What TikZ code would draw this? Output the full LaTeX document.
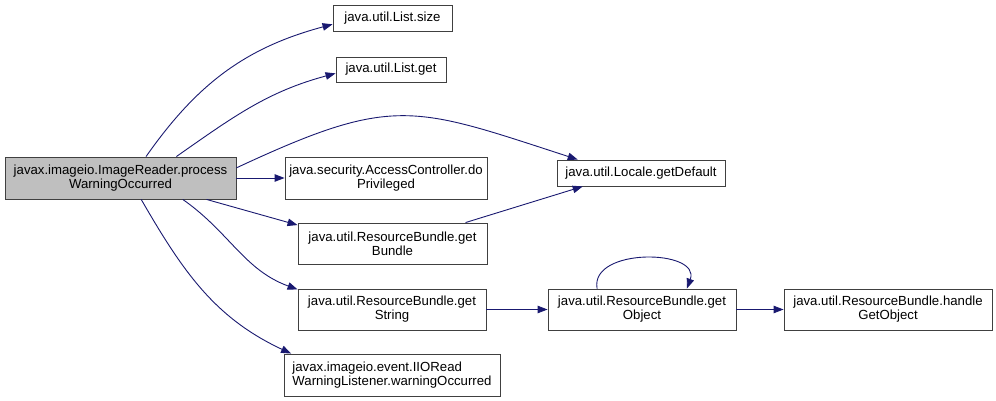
\documentclass[tikz,border=0pt]{standalone}
\usepackage{fontspec}
\setmainfont{Liberation Sans}
\usetikzlibrary{arrows.meta}
\definecolor{edgeblue}{HTML}{191970}
\tikzset{
fn/.style={draw=black!75,fill=white,line width=0.9pt,inner sep=0pt,align=center,font=\fontsize{13.2}{14}\selectfont},
cur/.style={fn,fill=black!25},
call/.style={-{Triangle[length=10pt,width=7.5pt]},edgeblue,line width=0.9pt}
}

\begin{document}
\begin{tikzpicture}[x=1pt,y=-1pt]
\useasboundingbox (0,0) rectangle (996,401);
\node[cur,minimum width=231pt,minimum height=42pt] (main) at (120.5,178) {javax.imageio.ImageReader.process\\WarningOccurred};
\node[fn,minimum width=119pt,minimum height=26pt] (size) at (392.5,18) {java.util.List.size};
\node[fn,minimum width=110pt,minimum height=25pt] (get) at (391,69.5) {java.util.List.get};
\node[fn,minimum width=202pt,minimum height=42pt] (acc) at (386,178) {java.security.AccessController.do\\Privileged};
\node[fn,minimum width=168pt,minimum height=26pt] (loc) at (641,173) {java.util.Locale.getDefault};
\node[fn,minimum width=189pt,minimum height=41pt] (bundle) at (392.5,243.5) {java.util.ResourceBundle.get\\Bundle};
\node[fn,minimum width=188pt,minimum height=41pt] (str) at (392,309.5) {java.util.ResourceBundle.get\\String};
\node[fn,minimum width=216pt,minimum height=42pt,align=left] (warn) at (392,375) {javax.imageio.event.IIORead\\WarningListener.warningOccurred};
\node[fn,minimum width=188pt,minimum height=41pt] (obj) at (642,309.5) {java.util.ResourceBundle.get\\Object};
\node[fn,minimum width=208pt,minimum height=41pt] (handle) at (888,309.5) {java.util.ResourceBundle.handle\\GetObject};

\draw[call] (main.40) to[out=55,in=195] (size.186);
\draw[call] (main.21) to[out=35,in=195] (get.184);
\draw[call] (main.5) to[out=25,in=162,looseness=1.3] (loc.168);
\draw[call] (main.east) -- (acc.west);
\draw[call] (main.346) -- (bundle.169);
\draw[call] (main.341) to[out=-35,in=160] (str.168);
\draw[call] (main.314) to[out=-60,in=155] (warn.168);
\draw[call] (bundle.16) -- (loc.193);
\draw[call] (str.east) -- (obj.west);
\draw[call] (obj.155) to[out=100,in=70,looseness=1.2] (obj.25);
\draw[call] (obj.east) -- (handle.west);
\end{tikzpicture}
\end{document}
